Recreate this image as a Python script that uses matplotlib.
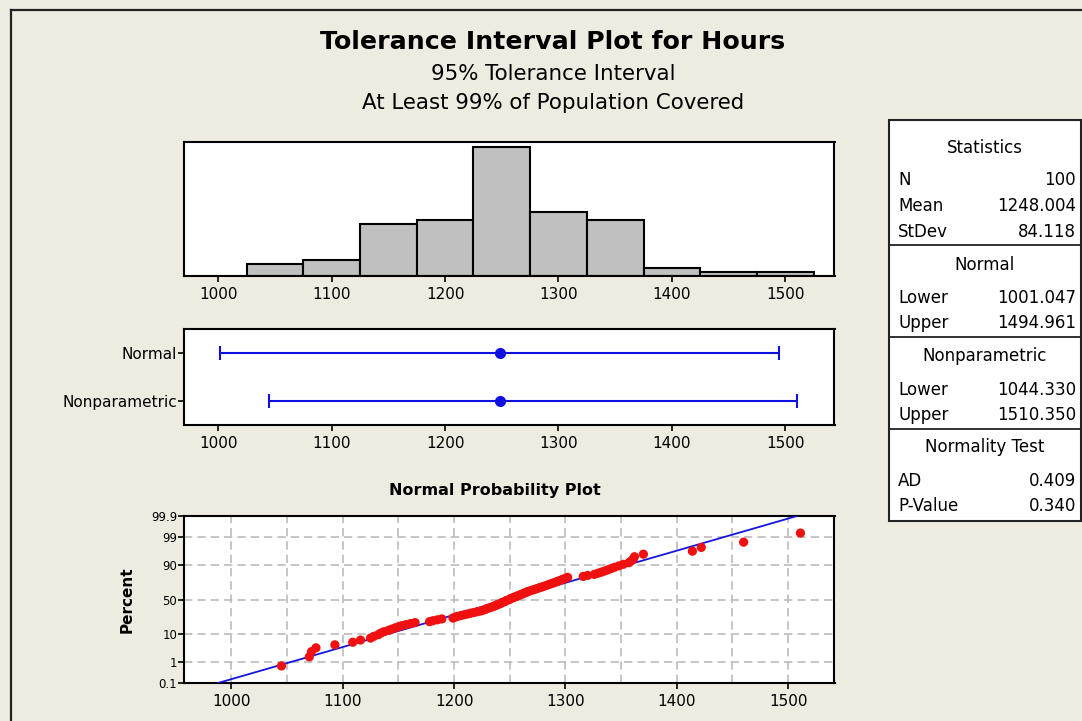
import matplotlib
matplotlib.use("Agg")
import matplotlib.pyplot as plt
from matplotlib.patches import Rectangle
from matplotlib.lines import Line2D
from statistics import NormalDist
import numpy as np

# ---------------- data ----------------
bin_edges = [1025, 1075, 1125, 1175, 1225, 1275, 1325, 1375, 1425, 1475, 1525]
bin_counts = [3, 4, 13, 14, 32, 16, 14, 2, 1, 1]

interval_labels = ["Normal", "Nonparametric"]
interval_lower = [1001.047, 1044.330]
interval_upper = [1494.961, 1510.350]

n_obs = 100
mean_val = 1248.004
sd_val = 84.118
ad_stat = 0.409
p_value = 0.340

hours_sorted = [
    1045, 1070, 1072,
    1076, 1093, 1109, 1116,
    1125, 1128, 1132, 1134, 1137, 1141, 1144, 1147, 1150, 1153, 1157, 1161, 1165,
    1178, 1181, 1185, 1189, 1199, 1201, 1203, 1206, 1209, 1212, 1215, 1218, 1221, 1224,
    1226, 1228, 1229, 1231, 1233, 1235, 1236, 1238, 1239, 1241, 1242, 1243, 1245, 1246,
    1247, 1249, 1250, 1251, 1253, 1254, 1256, 1257, 1259, 1260, 1262, 1263, 1265, 1266,
    1268, 1270, 1272, 1274,
    1276, 1278, 1280, 1282, 1284, 1286, 1288, 1290, 1292, 1294, 1296, 1298, 1300, 1302,
    1316, 1320,
    1326, 1329, 1332, 1335, 1338, 1341, 1344, 1348, 1352, 1357, 1359, 1361, 1362, 1370,
    1414, 1422, 1460, 1511,
]

pct_ticks = [0.1, 1, 10, 50, 90, 99, 99.9]
pct_ticklabels = ["0.1", "1", "10", "50", "90", "99", "99.9"]
x_ticks = [1000, 1100, 1200, 1300, 1400, 1500]

# ---------------- style ----------------
BG = "#EEEBE1"
plt.rcParams["font.family"] = ["DejaVu Sans"]
W, H = 1082, 721
fig = plt.figure(figsize=(W / 100, H / 100), dpi=100, facecolor=BG)


def fx(px):
    return px / W


def fy(py):
    return 1 - py / H


def make_axes(x0, y0, x1, y1):
    ax = fig.add_axes([fx(x0), fy(y1), fx(x1) - fx(x0), fy(y0) - fy(y1)])
    ax.set_facecolor("white")
    for s in ax.spines.values():
        s.set_linewidth(1.5)
        s.set_color("black")
    return ax


# frame lines of the window
fig.add_artist(Line2D([fx(10.5), fx(1082)], [fy(9.5), fy(9.5)], color="#222222", lw=1.6))
fig.add_artist(Line2D([fx(10.5), fx(10.5)], [fy(9.5), fy(721)], color="#222222", lw=1.6))

# titles
fig.text(fx(553), fy(42), "Tolerance Interval Plot for Hours", ha="center", va="center",
         fontsize=18.2, fontweight="bold")
fig.text(fx(553), fy(74), "95% Tolerance Interval", ha="center", va="center", fontsize=15.4)
fig.text(fx(553), fy(103), "At Least 99% of Population Covered", ha="center", va="center", fontsize=15.4)

# ---------------- histogram ----------------
ax1 = make_axes(184, 142, 834.5, 276)
centers = [(bin_edges[i] + bin_edges[i + 1]) / 2 for i in range(len(bin_counts))]
widths = [bin_edges[i + 1] - bin_edges[i] for i in range(len(bin_counts))]
ax1.bar(centers, bin_counts, width=widths, color="#C0C0C0", edgecolor="black", linewidth=1.5)
ax1.set_xlim(969.6, 1543.5)
ax1.set_ylim(0, max(bin_counts) * 1.04)
ax1.set_yticks([])
ax1.set_xticks(x_ticks)
ax1.tick_params(axis="x", direction="out", length=4, width=1.2, labelsize=11, pad=4)

# ---------------- interval plot ----------------
ax2 = make_axes(184, 329, 834.5, 425)
ypos = [1, 0]
for yv, lo, hi in zip(ypos, interval_lower, interval_upper):
    ax2.errorbar([mean_val], [yv], xerr=[[mean_val - lo], [hi - mean_val]], fmt="o",
                 color="#1010E0", ms=7, capsize=5, elinewidth=1.5, capthick=1.5)
ax2.set_xlim(969.6, 1543.5)
ax2.set_ylim(-0.52, 1.52)
ax2.set_yticks(ypos)
ax2.set_yticklabels(interval_labels)
ax2.set_xticks(x_ticks)
ax2.tick_params(axis="x", direction="out", length=4, width=1.2, labelsize=11, pad=4)
ax2.tick_params(axis="y", direction="out", length=4, width=1.2, labelsize=11, pad=1)

# ---------------- normal probability plot ----------------
nd = NormalDist()
ax3 = make_axes(184, 516, 834.5, 683)
n = len(hours_sorted)
zvals = [nd.inv_cdf((i + 1 - 0.3) / (n + 0.4)) for i in range(n)]
zlim = nd.inv_cdf(0.999)
line_z = np.linspace(-zlim, zlim, 50)
line_x = mean_val + sd_val * line_z
ax3.plot(line_x, line_z, color="#1515E0", lw=1.3, zorder=3)
ax3.scatter(hours_sorted, zvals, s=44, color="#F01010", edgecolors="none", zorder=4)
ax3.set_xlim(957.5, 1541.6)
ax3.set_ylim(-zlim, zlim)
ax3.set_yticks([nd.inv_cdf(p / 100) for p in pct_ticks])
ax3.set_yticklabels(pct_ticklabels)
ax3.set_xticks(x_ticks)
ax3.set_xticks(list(range(1050, 1500, 100)), minor=True)
ax3.tick_params(axis="x", which="major", direction="out", length=4, width=1.2, labelsize=11, pad=4)
ax3.tick_params(axis="x", which="minor", length=0)
ax3.tick_params(axis="y", direction="out", length=4, width=1.2, labelsize=8.5, pad=1)
ax3.grid(True, which="both", axis="x", color="#BBBBBB", ls=(0, (5, 3)), lw=1.2)
for p in pct_ticks[1:-1]:
    ax3.axhline(nd.inv_cdf(p / 100), color="#BBBBBB", ls=(0, (5, 3)), lw=1.2, zorder=1)
ax3.set_axisbelow(True)
fig.text(fx(495), fy(491), "Normal Probability Plot", ha="center", va="center",
         fontsize=11.5, fontweight="bold")
fig.text(fx(127), fy(600), "Percent", ha="center", va="center", rotation=90,
         fontsize=11, fontweight="bold")

# ---------------- statistics box ----------------
bx0, by0, bx1, by1 = 889, 120, 1081, 521
fig.add_artist(Rectangle((fx(bx0), fy(by1)), fx(bx1) - fx(bx0), fy(by0) - fy(by1),
                         facecolor="white", edgecolor="#222222", lw=1.5))
lx, rx = 898, 1076
fs = 12


def head(y, s):
    fig.text(fx(985), fy(y), s, ha="center", va="center", fontsize=fs)


def row(y, lab, val):
    fig.text(fx(lx), fy(y), lab, ha="left", va="center", fontsize=fs)
    fig.text(fx(rx), fy(y), val, ha="right", va="center", fontsize=fs)


def sep(y):
    fig.add_artist(Line2D([fx(bx0), fx(bx1)], [fy(y), fy(y)], color="#222222", lw=1.3))


head(148, "Statistics")
row(180, "N", f"{n_obs}")
row(206, "Mean", f"{mean_val:.3f}")
row(232, "StDev", f"{sd_val:.3f}")
sep(245)
head(265, "Normal")
row(298, "Lower", f"{interval_lower[0]:.3f}")
row(323, "Upper", f"{interval_upper[0]:.3f}")
sep(337)
head(356, "Nonparametric")
row(390, "Lower", f"{interval_lower[1]:.3f}")
row(415, "Upper", f"{interval_upper[1]:.3f}")
sep(429)
head(447, "Normality Test")
row(481, "AD", f"{ad_stat:.3f}")
row(506, "P-Value", f"{p_value:.3f}")

fig.savefig("out.png", dpi=100, facecolor=BG)
